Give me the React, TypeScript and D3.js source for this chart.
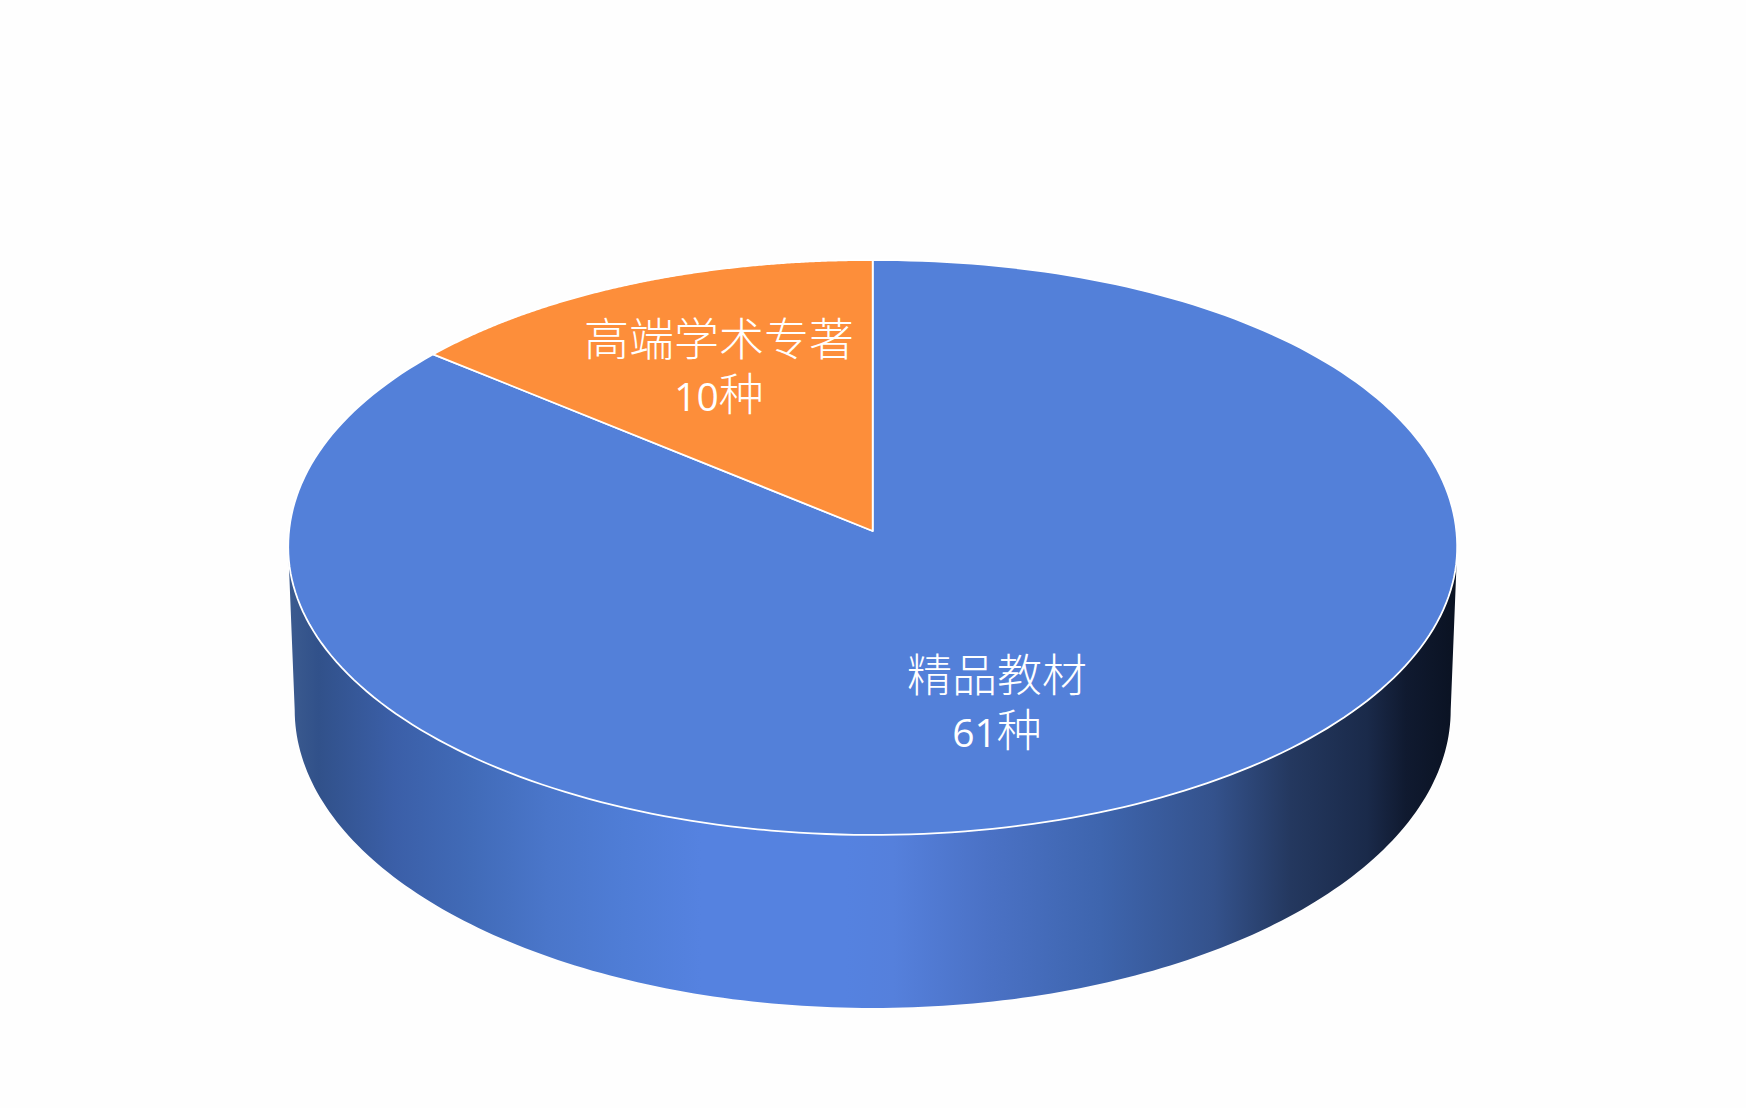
import React from "react";
import * as d3 from "d3";

const categories = ["精品教材", "高端学术专著"];
const values = [61, 10];
const valueLabels = ["61", "10"];
const unit = "种";
const sliceColors = ["#5380d9", "#fd8e3a"];
const sideStops: [number, string][] = [
  [0, "#3c5b8f"], [0.026, "#31518a"], [0.092, "#3b5fa8"], [0.157, "#416bb8"], [0.222, "#4a76ca"],
  [0.287, "#4f7dd6"], [0.353, "#5582e0"], [0.477, "#5582e0"], [0.518, "#5580dc"], [0.596, "#4b72c6"],
  [0.695, "#3e65ae"], [0.792, "#34528c"], [0.858, "#24385f"], [0.923, "#1a2a4a"], [0.956, "#101a30"], [1, "#0a1222"],
];

const W = 1746, H = 1108;
const cx = 872.7, tipY = 531, K = 583.5, C = 0.0574, A = -256;
const topCy = 547.5, topRx = 584.5, topRy = 287.5, upperN = 2.05;
const botCy = 710, botRx = 578, botRy = 298;

const proj = (a: number): [number, number] => {
  const u = Math.sin(a), v = Math.cos(a), d = 1 + C * v;
  const x = cx + (K * u) / d, y = (A * v + tipY) / d;
  const ex = (x - cx) / topRx, ey = (topCy - y) / topRy;
  if (ey <= 0) return [x, y];
  const s = Math.pow(Math.pow(Math.abs(ex), upperN) + Math.pow(ey, upperN), -1 / upperN);
  return [cx + ex * s * topRx, topCy - ey * s * topRy];
};
const ellipse = (a: number, cy: number, rx: number, ry: number): [number, number] => [cx + rx * Math.sin(a), cy - ry * Math.cos(a)];

const line = d3.line<[number, number]>().x(d => d[0]).y(d => d[1]);
const sweep = (a0: number, a1: number, n = 180) => d3.range(n + 1).map(i => a0 + ((a1 - a0) * i) / n);

export default function App() {
  const pie = d3.pie<number>().sort(null).startAngle(0).endAngle(2 * Math.PI);
  const arcs = pie(values);
  const tip: [number, number] = [cx, tipY];
  const slicePath = (s: number, e: number) => line([tip, ...sweep(s, e, 240).map(proj)])! + "Z";

  const upper = sweep(Math.PI * 1.5, Math.PI / 2).map(a => ellipse(a, topCy, topRx, topRy));
  const lower = sweep(Math.PI / 2, Math.PI * 1.5).map(a => ellipse(a, botCy, botRx, botRy));
  const sidePath = line([...upper, ...lower])! + "Z";

  const labelPos: [number, number][] = [[997, 692], [719, 356]];

  return (
    <svg width={W} height={H} viewBox={`0 0 ${W} ${H}`} style={{ position: "absolute", left: 0, top: 0, background: "#fefefe" }}>
      <defs>
        <linearGradient id="side" gradientUnits="userSpaceOnUse" x1={288} x2={1457} y1={0} y2={0}>
          {sideStops.map(([o, c]) => <stop key={o} offset={o} stopColor={c} />)}
        </linearGradient>
      </defs>
      <path d={sidePath} fill="url(#side)" />
      {arcs.map((d, i) => (
        <path key={i} d={slicePath(d.startAngle, d.endAngle)} fill={sliceColors[i]} stroke="#fff" strokeWidth={1.8} strokeLinejoin="round" />
      ))}
      {categories.map((c, i) => (
        <text key={c} fill="#fff" textAnchor="middle" x={labelPos[i][0]} y={labelPos[i][1]}>
          <tspan x={labelPos[i][0]} fontFamily="'Noto Sans CJK SC'" fontSize={45} fontWeight={300}>{c}</tspan>
          <tspan x={labelPos[i][0]} dy={55} fontFamily="'Open Sans'" fontSize={39}>{valueLabels[i]}</tspan>
          <tspan fontFamily="'Noto Sans CJK SC'" fontSize={45} fontWeight={300}>{unit}</tspan>
        </text>
      ))}
    </svg>
  );
}
